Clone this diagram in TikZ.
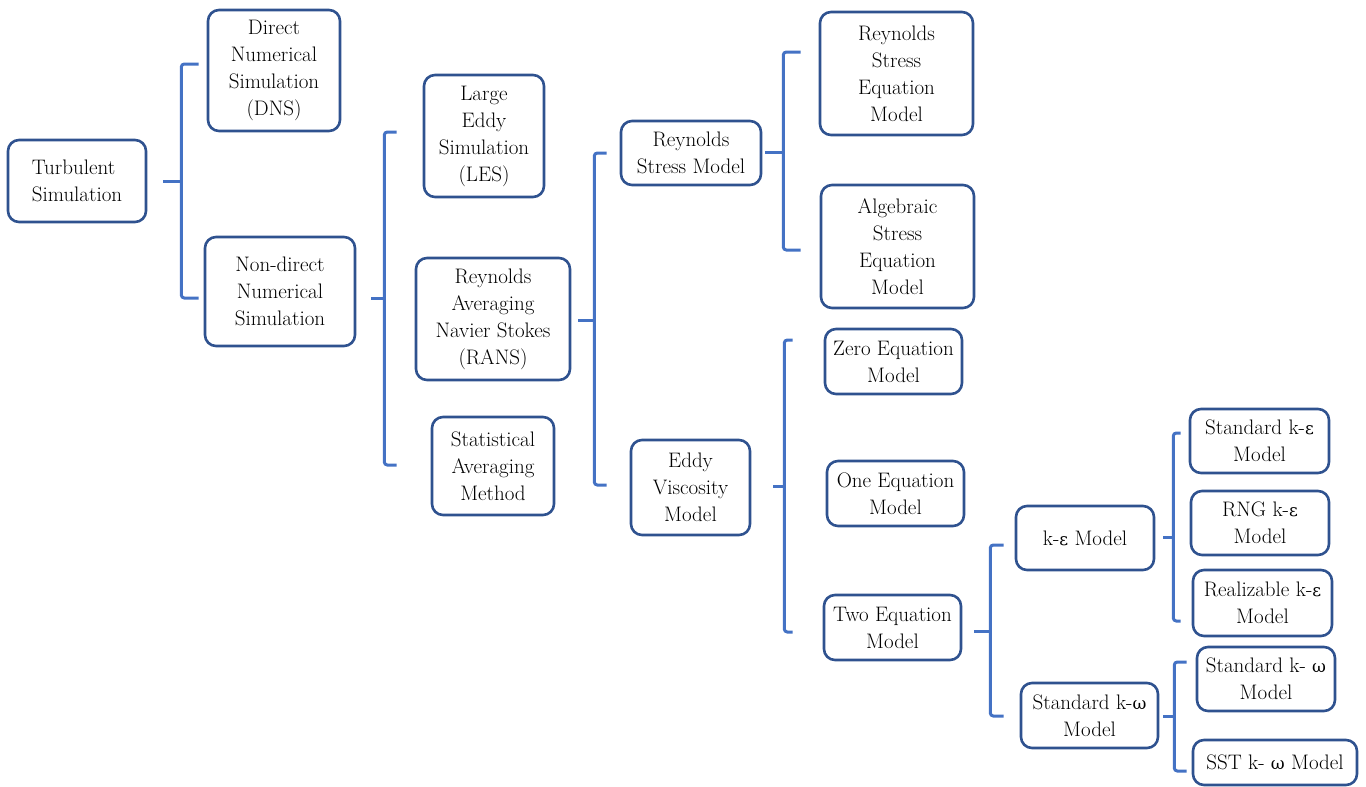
\documentclass[tikz,border=0pt]{standalone}
\usepackage{fontspec}
\newfontfamily\greekfont{DejaVu Serif}
\usepackage{tikz}
\usetikzlibrary{calc}
\definecolor{boxblue}{RGB}{47,82,143}
\definecolor{linkblue}{RGB}{68,114,196}
\newcommand{\eps}{{\greekfont\fontsize{17}{27}\selectfont ε}}
\newcommand{\omg}{{\greekfont\fontsize{17}{27}\selectfont ω}}
\tikzset{
  box/.style={
    draw=boxblue, line width=2.6pt, rounded corners=11pt, fill=white,
    align=center, inner sep=0pt, font=\fontsize{21}{27}\selectfont
  },
  bracket/.style={draw=linkblue, line width=3pt, rounded corners=3pt},
}

\begin{document}
\begin{tikzpicture}[x=1pt, y=-1pt]
  \useasboundingbox (0,0) rectangle (1366,787);

  % level 0 and 1
  \node[box, minimum width=138, minimum height=82, align=left] (TS) at (77,181) {Turbulent\\Simulation};
  \node[box, minimum width=132, minimum height=121] (DNS) at (274,70.5) {Direct\\Numerical\\Simulation\\(DNS)};
  \node[box, minimum width=150, minimum height=109] (NDS) at (280,291.5) {Non-direct\\Numerical\\Simulation};

  % level 2
  \node[box, minimum width=120, minimum height=122] (LES) at (484,136) {Large\\Eddy\\Simulation\\(LES)};
  \node[box, minimum width=154, minimum height=122] (RANS) at (493,319) {Reynolds\\Averaging\\Navier Stokes\\(RANS)};
  \node[box, minimum width=122, minimum height=98] (SAM) at (493,466) {Statistical\\Averaging\\Method};

  % level 3
  \node[box, minimum width=140, minimum height=64] (RSM) at (691,153) {Reynolds\\Stress Model};
  \node[box, minimum width=119, minimum height=95] (EVM) at (690.5,487.5) {Eddy\\Viscosity\\Model};

  % level 4
  \node[box, minimum width=153, minimum height=123] (RSE) at (896.5,73.5) {Reynolds\\Stress\\Equation\\Model};
  \node[box, minimum width=153, minimum height=123] (ASE) at (897.5,246.5) {Algebraic\\Stress\\Equation\\Model};
  \node[box, minimum width=137, minimum height=65] (ZEM) at (893.5,361.5) {Zero Equation\\Model};
  \node[box, minimum width=137, minimum height=65] (OEM) at (895.5,493.5) {One Equation\\Model};
  \node[box, minimum width=137, minimum height=65] (TEM) at (892.5,627.5) {Two Equation\\Model};

  % level 5
  \node[box, minimum width=138, minimum height=64] (KEM) at (1085,538) {k-\eps{} Model};
  \node[box, minimum width=137, minimum height=65] (SKW) at (1089.5,715.5) {Standard k-\omg\\Model};

  % level 6
  \node[box, minimum width=139, minimum height=64] (SKE) at (1259.5,441) {Standard k-\eps\\Model};
  \node[box, minimum width=138, minimum height=64] (RNG) at (1260,523) {RNG k-\eps\\Model};
  \node[box, minimum width=139, minimum height=66] (RKE) at (1262.5,603) {Realizable k-\eps\\Model};
  \node[box, minimum width=138, minimum height=64] (SKW2) at (1266,679) {Standard k- \omg\\Model};
  \node[box, minimum width=164, minimum height=45] (SST) at (1275,762.5) {SST k- \omg{} Model};

  % brackets
  \coordinate (j1) at ($(TS.east)+(34,0)$);
  \draw[bracket] ($(TS.east)+(16,0)$) -- (j1);
  \draw[bracket] ($(DNS.west)+(-8,-6.5)$) -| (j1) |- ($(NDS.west)+(-5,6.5)$);

  \coordinate (j2) at ($(NDS.east)+(28,6.5)$);
  \draw[bracket] ($(NDS.east)+(15,6.5)$) -- (j2);
  \draw[bracket] ($(LES.west)+(-26,-4)$) -| (j2) |- ($(SAM.west)+(-34,-1)$);

  \coordinate (j3) at ($(RANS.east)+(23,1)$);
  \draw[bracket] ($(RANS.east)+(7,1)$) -- (j3);
  \draw[bracket] ($(RSM.west)+(-13,0)$) -| (j3) |- ($(EVM.west)+(-23,-2.5)$);

  \coordinate (j4) at ($(RSM.east)+(21,-1)$);
  \draw[bracket] ($(RSM.east)+(3,-1)$) -- (j4);
  \draw[bracket] ($(RSE.west)+(-18,-21.5)$) -| (j4) |- ($(ASE.west)+(-19,3.5)$);

  \coordinate (j5) at ($(EVM.east)+(33,-1.5)$);
  \draw[bracket] ($(EVM.east)+(22,-1.5)$) -- (j5);
  \draw[bracket] ($(ZEM.west)+(-31,-21.5)$) -| (j5) |- ($(TEM.west)+(-30,4.5)$);

  \coordinate (j6) at ($(TEM.east)+(28,3.5)$);
  \draw[bracket] ($(TEM.east)+(12,3.5)$) -- (j6);
  \draw[bracket] ($(KEM.west)+(-11,7)$) -| (j6) |- ($(SKW.west)+(-16,0.5)$);

  \coordinate (j7) at ($(KEM.east)+(18,-1)$);
  \draw[bracket] ($(KEM.east)+(8,-1)$) -- (j7);
  \draw[bracket] ($(SKE.west)+(-8,-8)$) -| (j7) |- ($(RKE.west)+(-11,18)$);

  \coordinate (j8) at ($(SKW.east)+(15,0.5)$);
  \draw[bracket] ($(SKW.east)+(4,0.5)$) -- (j8);
  \draw[bracket] ($(SKW2.west)+(-9,-17)$) -| (j8) |- ($(SST.west)+(-5,8.5)$);
\end{tikzpicture}
\end{document}
